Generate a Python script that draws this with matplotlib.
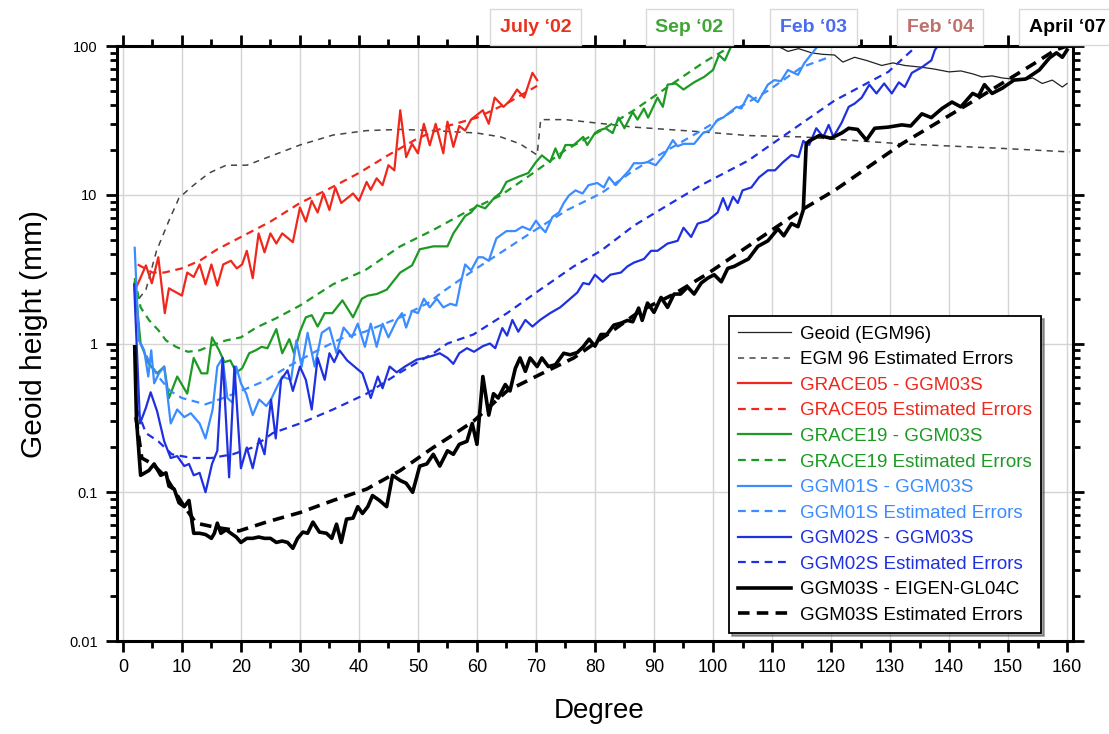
import numpy as np
import matplotlib.pyplot as plt
import matplotlib.transforms as mtransforms
from matplotlib.ticker import MultipleLocator, NullFormatter, LogLocator

plt.rcParams['font.family'] = ['Liberation Sans', 'DejaVu Sans']

# ---- data (degree, geoid height in mm) ----
geoid_deg = [100, 105, 108, 111.6, 112.7, 114.5, 116.7, 118.5, 120.6, 122, 124, 126, 128.6, 130.5,
             132.5, 135.4, 137.5, 140, 142, 144, 145.6, 147.3, 149, 150.7, 152.4, 154.2, 155.8,
             157.5, 159.2, 160]
geoid_val = [140, 120, 108, 97, 92, 96, 90, 88, 87, 78, 84, 80, 74, 77,
             74, 72, 70, 67, 68, 65, 62, 63, 61, 60, 59, 61, 56,
             59, 53, 56]

egm_err_deg = [2.7, 3.9, 5.7, 7.8, 9.5, 11.5, 14.6, 17.5, 21, 25.4, 30, 35.6, 41.3, 47, 52.5,
               60, 64, 67.3, 70.2, 70.8, 75, 86.6, 98, 106, 115, 132, 149, 160.5]
egm_err_val = [2.0, 2.3, 4.2, 6.7, 9.5, 11.2, 14, 15.8, 15.8, 18.4, 21.6, 25.2, 27, 27.5, 27,
               26, 24.5, 22, 18.5, 32, 32, 28.5, 26.5, 25, 24.5, 22, 20.5, 19.4]

grace05_deg = [2, 2.5, 3.9, 4.9, 6, 7.1, 7.8, 10, 10.9, 12, 13, 14, 15, 16, 17, 18.3, 19.3, 20.2,
               21, 22, 23, 24, 25, 26, 27, 28.8, 30, 31, 32, 33, 34, 35, 36, 37, 39, 40, 41.3,
               42, 43, 44, 45, 46, 47, 48, 49, 50, 51, 52, 53, 54.3, 55, 56, 57, 58, 59, 61,
               62, 63, 64.5, 65.6, 66.8, 68, 69.4, 70.2]
grace05_val = [2.3, 2.5, 3.35, 2.54, 3.8, 1.6, 2.35, 2.1, 3.0, 2.8, 3.4, 2.5, 3.4, 2.45, 3.4, 3.6,
               3.2, 3.4, 4.2, 2.75, 5.5, 4.1, 5.5, 4.7, 5.5, 4.8, 8.2, 6.6, 9.1, 7.6, 10.2, 7.9,
               11.2, 8.8, 10.2, 9.1, 12.2, 10.8, 12.9, 11.6, 15.8, 14.6, 37, 17.9, 22, 19, 30,
               21.5, 30, 19, 31, 21, 29, 27, 32, 37, 30, 45, 39, 43, 51, 45, 66, 59]

grace05_err_deg = [2.5, 5, 7, 10, 13, 16, 20, 25, 30, 35, 40, 45, 50, 55, 60, 65, 70.2]
grace05_err_val = [3.4, 3.0, 3.0, 3.2, 3.6, 4.3, 5.2, 6.6, 8.8, 11, 14, 18.5, 24, 29, 33, 41, 54]

grace19_deg = [2, 3, 4.4, 5.8, 7, 7.8, 9.2, 10.9, 12, 13.3, 14.3, 15.1, 16.3, 17.2, 18.2, 19.2,
               20.2, 21.4, 22.5, 23.5, 24.5, 26, 27, 28.2, 29, 30, 31, 32, 33, 34.2, 35.5, 37.2,
               39, 40.5, 41.5, 43, 44.7, 47, 49, 50.3, 52.6, 55, 56, 58, 59, 60, 61.4, 63, 64,
               65, 67, 68.7, 70, 71, 72.4, 73.3, 74, 75, 76.4, 78, 78.7, 80, 80.6, 81.8, 83, 84,
               85, 86.4, 87.2, 88.3, 89, 90.6, 91.5, 92.3, 93.7, 95, 96.8, 98.5, 100, 101, 102,
               103, 104, 106]
grace19_val = [2.6, 1.0, 0.73, 0.63, 0.7, 0.43, 0.6, 0.46, 0.8, 0.63, 0.63, 1.1, 0.9, 0.75, 0.77,
               0.64, 0.68, 0.86, 0.9, 0.95, 0.93, 1.25, 0.86, 1.07, 0.86, 1.2, 1.5, 1.55, 1.3,
               1.6, 1.6, 1.95, 1.5, 2.0, 2.1, 2.15, 2.3, 3.0, 3.35, 4.3, 4.5, 4.5, 5.5, 7.2, 7.6,
               8.5, 8.1, 9.6, 10.3, 12.2, 13.2, 14, 16.6, 18.4, 16.6, 20.5, 17.6, 21.6, 21.6,
               24.5, 21.6, 26, 27, 28, 26, 33, 28, 36, 32, 38, 33, 45, 39, 55, 56, 51, 57, 62,
               69, 87, 80, 98, 105, 112]

grace19_err_deg = [2, 3, 4.4, 6, 7.3, 9, 11, 13, 15, 17.5, 20, 22.6, 26, 30, 35.6, 41, 47, 52.6,
                   58, 64, 68.5, 75, 81, 86.6, 92.3, 98.5, 102, 104]
grace19_err_val = [2.75, 1.75, 1.44, 1.23, 1.05, 0.95, 0.88, 0.9, 0.97, 1.05, 1.1, 1.28, 1.48,
                   1.8, 2.5, 3.1, 4.5, 5.8, 7.6, 9.9, 13.1, 20, 27, 37, 53, 78, 94, 105]

ggm01_deg = [2, 2.7, 3.6, 4.3, 4.8, 5.3, 6.1, 7, 8.1, 9.2, 10.4, 11.5, 13, 14, 15.2, 16, 16.9,
             17.7, 18.6, 19.2, 20, 20.9, 22, 23.1, 24.3, 25.1, 26, 27, 28.5, 29.4, 30.3, 31.3,
             32.5, 33.7, 35, 36.2, 37.4, 38.8, 39.8, 41, 42, 43, 44, 45, 46.4, 47.3, 48, 49, 50,
             51, 52, 53.2, 54.3, 55.5, 56.5, 57.3, 58, 59, 60.2, 61, 62, 63.3, 65, 66.5, 67.7,
             69, 70, 70.8, 71.6, 72.8, 73.9, 74.7, 75.6, 76.7, 77.9, 78.9, 80.4, 81.5, 82.4,
             83.5, 84.7, 85.8, 86.6, 88, 89, 90.3, 91.7, 93.2, 94, 95, 96.8, 98.3, 99.4, 100.8,
             101.7, 102.7, 104, 104.8, 106, 107.6, 109.3, 110.4, 111.5, 112.7, 114.4, 115.5,
             117.5, 118.5]
ggm01_val = [4.4, 1.05, 0.9, 0.6, 0.9, 0.54, 0.63, 0.7, 0.29, 0.36, 0.32, 0.34, 0.29, 0.23,
             0.36, 0.7, 0.8, 0.43, 0.40, 0.7, 0.54, 0.46, 0.33, 0.42, 0.38, 0.42, 0.5, 0.6, 0.57,
             1.05, 0.7, 1.18, 0.7, 1.18, 1.28, 0.86, 1.28, 1.1, 1.36, 0.95, 1.36, 0.95, 1.36,
             1.1, 1.43, 1.6, 1.28, 1.66, 1.6, 2.0, 1.75, 2.0, 1.75, 1.85, 1.8, 2.6, 3.4, 3.1,
             3.8, 3.8, 3.6, 5.1, 5.7, 5.7, 6.1, 5.8, 6.7, 6.05, 5.6, 7.1, 7.6, 8.8, 9.9, 10.7,
             10.2, 11.6, 12, 11.2, 13.1, 11.6, 13.1, 14.6, 16.3, 16.3, 16.6, 15.8, 18.5, 23.3,
             21.2, 22, 22, 26, 27, 32, 33, 35.5, 39, 38, 47, 42, 55, 59, 58, 69, 64, 77, 97, 110]

ggm01_err_deg = [3, 4.5, 6, 8, 10, 14, 17, 20, 24, 28, 33, 37, 41, 47, 52, 54, 59.4, 64.5,
                 69.6, 75.3, 81, 86.6, 92.3, 98, 103.6, 109.3, 115, 120]
ggm01_err_val = [1.0, 0.75, 0.6, 0.48, 0.43, 0.39, 0.43, 0.48, 0.56, 0.7, 0.9, 1.08, 1.2, 1.5,
                 1.9, 2.2, 3.1, 4.2, 5.7, 7.9, 10.2, 14.6, 20, 27, 37, 50, 72, 85]

ggm02_deg = [1.9, 2.9, 3.9, 4.7, 5.8, 7, 8.1, 9.2, 10.4, 11.2, 12, 13, 14, 15.1, 16, 16.9, 18,
             18.9, 20, 21, 22, 23.1, 24, 25.1, 25.9, 26.8, 27.9, 28.8, 30, 31, 32, 33, 34.2, 35,
             35.8, 36.7, 38, 40.6, 42, 43.2, 44, 45.2, 46.4, 47.8, 49.8, 51.2, 52.6, 53.7, 55, 56,
             57, 58.3, 59.5, 61, 62.2, 63.1, 64.3, 65.1, 66, 67, 68.2, 69.4, 70.7, 72.4, 74.1,
             75.8, 77, 78, 79, 80, 81.3, 82.6, 84.4, 85.5, 86.6, 88.3, 89.5, 90.6, 92.3, 94, 95,
             96.3, 97.4, 99.1, 100.8, 101.7, 102.5, 103.4, 104.2, 105, 106.5, 107.8, 109.3,
             110.5, 111.9, 113.3, 114.5, 115.3, 116.3, 117.5, 118.7, 119.6, 120.4, 121.8, 123,
             124, 125.2, 126.5, 127.7, 129, 130.3, 131.5, 132.5, 133.7, 135.4, 137, 137.6, 138.5]
ggm02_val = [2.5, 0.29, 0.37, 0.47, 0.35, 0.22, 0.17, 0.175, 0.15, 0.155, 0.13, 0.135, 0.10,
             0.155, 0.19, 0.8, 0.126, 0.7, 0.145, 0.2, 0.145, 0.23, 0.18, 0.42, 0.23, 0.57,
             0.66, 0.48, 0.7, 0.57, 0.36, 0.8, 0.57, 0.86, 0.75, 0.9, 0.77, 0.63, 0.43, 0.6,
             0.5, 0.7, 0.64, 0.7, 0.78, 0.8, 0.83, 0.86, 0.8, 0.73, 0.86, 0.93, 0.88, 0.96, 1.0,
             0.93, 1.27, 1.13, 1.44, 1.2, 1.44, 1.3, 1.44, 1.6, 1.75, 2.0, 2.2, 2.55, 2.5, 2.9,
             2.6, 2.9, 3.0, 3.3, 3.5, 3.7, 4.2, 4.2, 4.7, 4.9, 6.0, 5.2, 6.4, 6.7, 7.6, 9.5,
             7.9, 9.7, 8.8, 10.7, 11.2, 13.1, 14.6, 14.6, 16.6, 18.5, 17.9, 23, 21.6, 28, 24.5,
             29.5, 24.5, 30.5, 39, 41, 45, 55, 48, 56, 48, 57, 53, 66, 72, 80, 94, 105]

ggm02_err_deg = [2.4, 3.9, 6, 8.3, 11.7, 15, 18.6, 22, 25.4, 30, 35.6, 41.3, 47, 52.6, 55,
                 59.4, 65.1, 70.7, 76.4, 81, 86.6, 92.3, 98, 106, 109.3, 120.6, 129.7, 134.5]
ggm02_err_val = [0.36, 0.25, 0.22, 0.18, 0.17, 0.17, 0.18, 0.2, 0.25, 0.29, 0.36, 0.46, 0.64,
                 0.86, 1.0, 1.15, 1.6, 2.3, 3.3, 4.2, 6.2, 8.5, 11.6, 17, 21, 43, 67, 100]

ggm03_deg = [2, 2.3, 3, 4.4, 5.3, 6.4, 7.3, 7.8, 8.7, 9.5, 10.4, 11.2, 12, 13, 14, 15, 15.5, 16,
             16.6, 17.5, 18.3, 19.2, 20, 21, 22, 23, 24, 25, 26, 27, 27.9, 28.8, 29.6, 30.5,
             31.3, 32.2, 33.3, 34.5, 35.4, 36.2, 37, 37.9, 39, 39.8, 40.6, 41.5, 42.3, 43.5,
             44.7, 45.7, 47, 48, 49.1, 50.3, 51.5, 52.6, 53.7, 55, 56, 57, 58.3, 59.2, 60, 61,
             62, 62.8, 63.6, 64.8, 65.6, 66.5, 67.3, 68.2, 69, 70.2, 71, 72.1, 73.3, 74.7, 75.8,
             77, 78, 79, 80, 81, 82, 83.2, 84.4, 85.5, 86.4, 87.4, 88, 88.9, 90, 91.2, 92.3,
             93.4, 94.5, 95.7, 96.8, 98, 99.1, 100.2, 101.4, 102.5, 103.6, 104.8, 106, 107.6,
             109.3, 111, 112, 113.3, 114.4, 115.3, 115.8, 116.3, 118, 120, 121.8, 123, 124.5,
             126, 127.4, 129.7, 132, 133.5, 135.4, 137, 138.8, 140.5, 142, 144, 145, 146, 147.3,
             149, 151, 153, 155.3, 157, 158.2, 159.2, 160]
ggm03_val = [0.95, 0.31, 0.13, 0.14, 0.155, 0.13, 0.135, 0.11, 0.105, 0.085, 0.08, 0.088, 0.053,
             0.053, 0.052, 0.049, 0.053, 0.062, 0.053, 0.056, 0.053, 0.05, 0.046, 0.049, 0.049,
             0.05, 0.049, 0.049, 0.046, 0.047, 0.046, 0.042, 0.049, 0.054, 0.053, 0.063, 0.054,
             0.053, 0.049, 0.061, 0.046, 0.066, 0.067, 0.08, 0.072, 0.08, 0.095, 0.088, 0.08,
             0.13, 0.12, 0.115, 0.1, 0.15, 0.155, 0.18, 0.15, 0.19, 0.18, 0.21, 0.22, 0.29, 0.21,
             0.6, 0.33, 0.46, 0.43, 0.53, 0.48, 0.68, 0.8, 0.65, 0.8, 0.7, 0.8, 0.7, 0.72, 0.86,
             0.84, 0.87, 0.95, 1.07, 0.96, 1.15, 1.15, 1.33, 1.37, 1.43, 1.4, 1.73, 1.43, 1.87,
             1.62, 2.04, 1.75, 2.15, 2.15, 2.4, 2.15, 2.55, 2.75, 2.9, 2.6, 3.2, 3.3, 3.5, 3.7,
             4.5, 4.9, 5.9, 5.3, 6.4, 6.1, 7.9, 22, 23, 25, 24, 26, 28, 27.5, 23.3, 28, 28.5,
             29.5, 29, 35, 33, 38, 42, 39, 48, 46, 55, 48, 52, 59, 60, 69, 83, 90, 84, 94]

ggm03_err_deg = [2.2, 3.2, 5, 7.3, 10, 12.4, 15.8, 19.7, 24.3, 30, 35.6, 41.3, 47, 52.6, 55,
                 59.4, 65.1, 70.7, 76.4, 82.1, 87.7, 93.4, 99.1, 104.8, 115, 120.6, 132, 143.4,
                 154.6, 158, 160]
ggm03_err_val = [0.32, 0.17, 0.155, 0.126, 0.085, 0.062, 0.058, 0.055, 0.063, 0.073, 0.088,
                 0.105, 0.14, 0.2, 0.23, 0.3, 0.48, 0.62, 0.8, 1.15, 1.66, 2.15, 2.95, 4.2, 7.9,
                 10.7, 22, 41, 77, 94, 100]

y_ticks = [0.01, 0.1, 1, 10, 100]
y_ticklabels = ['0.01', '0.1', '1', '10', '100']

tab_labels = ['July \u201802', 'Sep \u201802', 'Feb \u201803', 'Feb \u201804', 'April \u201807']
tab_degrees = [70, 96, 117, 138.5, 160]
tab_colors = ['#e8321e', '#3fa535', '#4a6cf0', '#c0706a', 'black']

RED = '#f0281c'
GREEN = '#1c9a24'
LBLUE = '#3a8cff'
DBLUE = '#1f30e0'

fig = plt.figure(figsize=(11.09, 7.34), dpi=100)
ax = fig.add_axes([0.1055, 0.1267, 0.862, 0.8106])

ax.plot(geoid_deg, geoid_val, color='#222222', lw=0.9, label='Geoid (EGM96)')
ax.plot(egm_err_deg, egm_err_val, color='#444444', lw=1.1, dashes=(4, 3.5),
        label='EGM 96 Estimated Errors')
ax.plot(grace05_deg, grace05_val, color=RED, lw=1.6, label='GRACE05 - GGM03S')
ax.plot(grace05_err_deg, grace05_err_val, color=RED, lw=1.6, dashes=(3.5, 2.5),
        label='GRACE05 Estimated Errors')
ax.plot(grace19_deg, grace19_val, color=GREEN, lw=1.6, label='GRACE19 - GGM03S')
ax.plot(grace19_err_deg, grace19_err_val, color=GREEN, lw=1.6, dashes=(3.5, 2.5),
        label='GRACE19 Estimated Errors')
ax.plot(ggm01_deg, ggm01_val, color=LBLUE, lw=1.6, label='GGM01S - GGM03S')
ax.plot(ggm01_err_deg, ggm01_err_val, color=LBLUE, lw=1.6, dashes=(3.5, 2.5),
        label='GGM01S Estimated Errors')
ax.plot(ggm02_deg, ggm02_val, color=DBLUE, lw=1.6, label='GGM02S - GGM03S')
ax.plot(ggm02_err_deg, ggm02_err_val, color=DBLUE, lw=1.6, dashes=(3.5, 2.5),
        label='GGM02S Estimated Errors')
ax.plot(ggm03_deg, ggm03_val, color='black', lw=2.6, label='GGM03S - EIGEN-GL04C')
ax.plot(ggm03_err_deg, ggm03_err_val, color='black', lw=2.6, dashes=(3.2, 2),
        label='GGM03S Estimated Errors')

ax.set_yscale('log')
ax.set_ylim(0.01, 100)
ax.set_xlim(-1, 161)

ax.xaxis.set_major_locator(MultipleLocator(10))
ax.xaxis.set_minor_locator(MultipleLocator(5))
ax.set_yticks(y_ticks, labels=y_ticklabels, fontsize=10.5)
ax.yaxis.set_minor_locator(LogLocator(base=10, subs=np.arange(2, 10), numticks=10))
ax.yaxis.set_minor_formatter(NullFormatter())

ax.grid(True, which='major', color='#d4d4d4', lw=1)
ax.set_axisbelow(True)
for s in ax.spines.values():
    s.set_linewidth(2.2)

ax.tick_params(which='both', direction='out', top=True, right=True, width=2, color='black')
ax.tick_params(which='major', length=8)
ax.tick_params(which='minor', length=5)
ax.tick_params(axis='x', labelsize=13, pad=5)
ax.tick_params(axis='y', pad=6)

ax.set_xlabel('Degree', fontsize=20)
ax.xaxis.set_label_coords(0.504, -0.095)
ax.set_ylabel('Geoid height (mm)', fontsize=21.5)
ax.yaxis.set_label_coords(-0.072, 0.516)

leg = ax.legend(loc='lower left', bbox_to_anchor=(0.640, 0.013), borderaxespad=0,
                fontsize=13.5, labelcolor='linecolor', frameon=True, fancybox=False,
                shadow=True, framealpha=1, edgecolor='black', handlelength=2.8,
                handletextpad=0.5, labelspacing=0.45, borderpad=0.5)
leg.get_frame().set_linewidth(1.3)
# the EGM96 entries have black text in the original
leg.get_texts()[0].set_color('black')
leg.get_texts()[1].set_color('black')

trans = mtransforms.blended_transform_factory(ax.transData, fig.transFigure)
for lab, d, c in zip(tab_labels, tab_degrees, tab_colors):
    ax.text(d, 0.963, lab, transform=trans, ha='center', va='center', fontsize=14,
            fontweight='bold', color=c, clip_on=False,
            bbox=dict(boxstyle='square,pad=0.5', fc='white', ec='#d9d9d9', lw=1))

fig.savefig('out.png', dpi=100)
